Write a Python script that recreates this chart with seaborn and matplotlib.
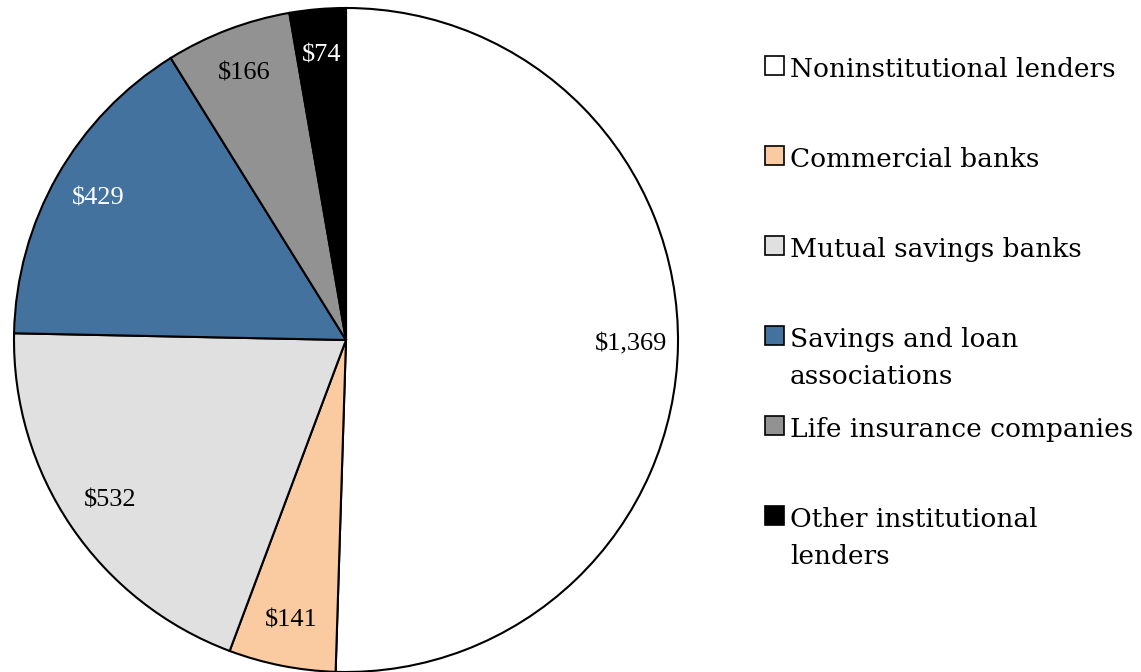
import matplotlib
matplotlib.use("Agg")
import matplotlib.pyplot as plt
import seaborn as sns
import numpy as np
from matplotlib.patches import Rectangle

# --------------------------
# Data
# --------------------------
categories = ["Noninstitutional lenders", "Commercial banks", "Mutual savings banks",
              "Savings and loan\nassociations", "Life insurance companies",
              "Other institutional\nlenders"]
values = [1369, 141, 532, 429, 166, 74]
value_labels = ["$1,369", "$141", "$532", "$429", "$166", "$74"]
colors = ["#FFFFFF", "#FACBA0", "#E0E0E0", "#44729F", "#929292", "#000000"]
label_colors = ["black", "black", "black", "white", "black", "white"]

sns.set_theme(style="white")
plt.rcParams["font.family"] = ["Liberation Serif", "DejaVu Serif"]

W, H = 1141, 672
fig = plt.figure(figsize=(W / 100, H / 100), dpi=100)
fig.patch.set_facecolor("white")

# pie axes: center (346, 340) px, radius 332 px
cx, cy, r = 346, 340, 332
ax = fig.add_axes([(cx - r) / W, (H - cy - r) / H, 2 * r / W, 2 * r / H])
wedges, _ = ax.pie(values, colors=colors, startangle=90, counterclock=False,
                   radius=1.0, wedgeprops=dict(edgecolor="black", linewidth=1.5))
for w in wedges:
    w.set_clip_on(False)
ax.set_xlim(-1, 1)
ax.set_ylim(-1, 1)
ax.set_aspect("equal")
ax.axis("off")

# value labels inside slices
for w, lab, c in zip(wedges, value_labels, label_colors):
    ang = np.deg2rad((w.theta1 + w.theta2) / 2)
    d = 0.86
    ax.text(d * np.cos(ang), d * np.sin(ang), lab, ha="center", va="center",
            fontsize=19, color=c)

# --------------------------
# Legend (drawn manually, first line of each entry on a fixed grid)
# --------------------------
x_box, x_text = 765, 790
y0, step, line_h = 77, 90, 37
for i, (cat, col) in enumerate(zip(categories, colors)):
    yb = y0 + i * step
    fig.patches.append(Rectangle((x_box / W, (H - yb + 2) / H), 19 / W, 19 / H,
                                 transform=fig.transFigure, facecolor=col,
                                 edgecolor="black", linewidth=1.2))
    for j, line in enumerate(cat.split("\n")):
        fig.text(x_text / W, (H - yb - j * line_h) / H, line, ha="left",
                 va="baseline", fontsize=19, color="black", family="DejaVu Serif")

fig.savefig("out.png", dpi=100, facecolor="white")
